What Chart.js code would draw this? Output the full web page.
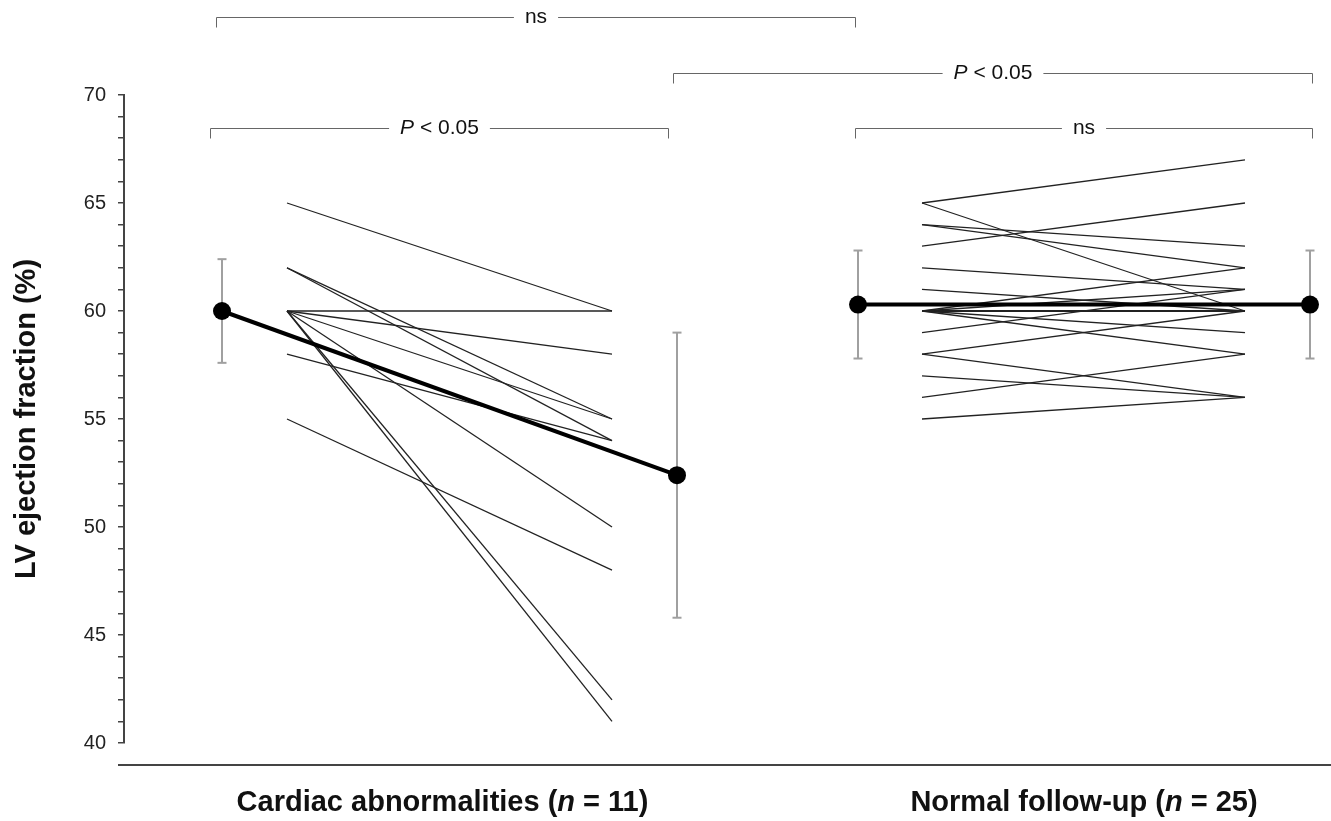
<!DOCTYPE html>
<html>
<head>
<meta charset="utf-8">
<script src="https://cdn.jsdelivr.net/npm/chart.js@4.4.1/dist/chart.umd.min.js"></script>
<style>
  html, body { margin: 0; padding: 0; background: #fff; }
  #wrap { width: 1331px; height: 821px; position: relative; }
</style>
</head>
<body>
<div id="wrap"><canvas id="efChart"></canvas></div>
<script>
// LV ejection fraction, baseline vs follow-up
const groups = ['Cardiac abnormalities', 'Normal follow-up'];
const groupN = [11, 25];

const caBaseline = [65, 62, 62, 60, 60, 60, 60, 60, 60, 58, 55];
const caFollowup = [60, 55, 54, 60, 58, 55, 50, 42, 41, 54, 48];

const nfBaseline = [65, 65, 64, 64, 63, 62, 61, 60, 60, 60, 60, 59, 58, 58, 57, 56, 55, 60, 60, 60, 60, 60, 60, 60, 60];
const nfFollowup = [67, 60, 63, 62, 65, 61, 60, 62, 61, 58, 59, 61, 60, 56, 56, 58, 56, 60, 60, 60, 60, 60, 60, 60, 60];

// group mean +/- SD at baseline and follow-up
const caMean = [60.0, 52.4];
const caSD = [2.4, 6.6];
const nfMean = [60.3, 60.3];
const nfSD = [2.5, 2.5];

const yTicks = [40, 45, 50, 55, 60, 65, 70];

// x slots on the (hidden) horizontal scale
const X = {
  caMean0: 0.98, caLine0: 1.63, caLine1: 4.88, caMean1: 5.53,
  nfMean0: 7.34, nfLine0: 7.98, nfLine1: 11.21, nfMean1: 11.86
};

// significance brackets: span on x, height in y units, label parts [text, italic]
const brackets = [
  { from: 0.92, to: 7.31, level: 73.6, label: [['ns', false]] },
  { from: 5.49, to: 11.88, level: 71.0, label: [['P', true], [' < 0.05', false]] },
  { from: 0.86, to: 5.44, level: 68.45, label: [['P', true], [' < 0.05', false]] },
  { from: 7.31, to: 11.88, level: 68.45, label: [['ns', false]] }
];

const FONT = "'Liberation Sans', Arial, Helvetica, sans-serif";

function seg(x0, x1, a, b) {
  return [{ x: x0, y: a }, { x: x1, y: b }];
}

const datasets = [];

// mean lines (drawn on top)
datasets.push({
  data: seg(X.caMean0, X.caMean1, caMean[0], caMean[1]),
  showLine: true, borderColor: '#000', borderWidth: 4,
  pointRadius: 9, pointBackgroundColor: '#000', pointBorderWidth: 0
});
datasets.push({
  data: seg(X.nfMean0, X.nfMean1, nfMean[0], nfMean[1]),
  showLine: true, borderColor: '#000', borderWidth: 4,
  pointRadius: 9, pointBackgroundColor: '#000', pointBorderWidth: 0
});

// error bars
[[X.caMean0, caMean[0], caSD[0]], [X.caMean1, caMean[1], caSD[1]],
 [X.nfMean0, nfMean[0], nfSD[0]], [X.nfMean1, nfMean[1], nfSD[1]]].forEach(([x, m, sd]) => {
  datasets.push({
    data: [{ x: x, y: m - sd }, { x: x, y: m + sd }],
    showLine: true, borderColor: '#a0a0a0', borderWidth: 2,
    pointStyle: 'line', pointRadius: 4.5, pointBorderColor: '#a0a0a0', pointBorderWidth: 2
  });
});

// individual patients
caBaseline.forEach((v, i) => {
  datasets.push({
    data: seg(X.caLine0, X.caLine1, v, caFollowup[i]),
    showLine: true, borderColor: '#222', borderWidth: 1.3, pointRadius: 0
  });
});
nfBaseline.forEach((v, i) => {
  datasets.push({
    data: seg(X.nfLine0, X.nfLine1, v, nfFollowup[i]),
    showLine: true, borderColor: '#222', borderWidth: 1.3, pointRadius: 0
  });
});

function richWidth(ctx, parts, size, weight) {
  let w = 0;
  parts.forEach(([t, it]) => {
    ctx.font = (it ? 'italic ' : '') + weight + ' ' + size + 'px ' + FONT;
    w += ctx.measureText(t).width;
  });
  return w;
}

function drawRich(ctx, parts, cx, cy, size, weight, color) {
  const total = richWidth(ctx, parts, size, weight);
  let x = cx - total / 2;
  ctx.fillStyle = color;
  ctx.textAlign = 'left';
  ctx.textBaseline = 'middle';
  parts.forEach(([t, it]) => {
    ctx.font = (it ? 'italic ' : '') + weight + ' ' + size + 'px ' + FONT;
    ctx.fillText(t, x, cy);
    x += ctx.measureText(t).width;
  });
}

const annotate = {
  id: 'annotate',
  afterDraw(chart) {
    const { ctx, chartArea, scales: { x, y } } = chart;
    ctx.save();

    // brackets
    ctx.strokeStyle = '#666';
    ctx.lineWidth = 1;
    brackets.forEach(b => {
      const x1 = Math.round(x.getPixelForValue(b.from)) + 0.5;
      const x2 = Math.round(x.getPixelForValue(b.to)) + 0.5;
      const yy = Math.round(y.getPixelForValue(b.level)) + 0.5;
      const cx = (x1 + x2) / 2;
      const w = richWidth(ctx, b.label, 21, 'normal');
      ctx.beginPath();
      ctx.moveTo(x1, yy + 10);
      ctx.lineTo(x1, yy);
      ctx.lineTo(cx - w / 2 - 11, yy);
      ctx.moveTo(cx + w / 2 + 11, yy);
      ctx.lineTo(x2, yy);
      ctx.lineTo(x2, yy + 10);
      ctx.stroke();
      drawRich(ctx, b.label, cx, yy, 21, 'normal', '#111');
    });

    // bottom axis line
    const by = chartArea.bottom + 22;
    ctx.strokeStyle = '#444';
    ctx.lineWidth = 2;
    ctx.beginPath();
    ctx.moveTo(chartArea.left - 6, by);
    ctx.lineTo(chart.width, by);
    ctx.stroke();

    // group labels
    const centers = [(X.caMean0 + X.caMean1) / 2 - 0.07, (X.nfMean0 + X.nfMean1) / 2];
    groups.forEach((g, i) => {
      const parts = [[g + ' (', false], ['n', true], [' = ' + groupN[i] + ')', false]];
      drawRich(ctx, parts, x.getPixelForValue(centers[i]), chartArea.bottom + 60, 29, 'bold', '#111');
    });

    ctx.restore();
  }
};

new Chart(document.getElementById('efChart'), {
  type: 'scatter',
  data: { datasets: datasets },
  options: {
    responsive: true,
    maintainAspectRatio: false,
    devicePixelRatio: 1,
    animation: false,
    events: [],
    layout: { padding: { top: 95, bottom: 78, left: 0, right: 0 } },
    plugins: { legend: { display: false }, tooltip: { enabled: false } },
    scales: {
      x: { type: 'linear', min: 0, max: 11.98, display: false },
      y: {
        min: 40, max: 70,
        afterFit: s => { s.width = 124; },
        border: { display: true, color: '#444', width: 2 },
        grid: { drawOnChartArea: false, drawTicks: true, tickLength: 6, color: '#444', lineWidth: 1.5 },
        ticks: {
          stepSize: 1, autoSkip: false, padding: 12, color: '#222',
          font: { size: 20, family: FONT },
          callback: v => yTicks.includes(v) ? v : ''
        },
        title: {
          display: true, text: 'LV ejection fraction (%)', color: '#111',
          font: { size: 29, weight: 'bold', family: FONT },
          padding: { top: 10, bottom: 0 }
        }
      }
    }
  },
  plugins: [annotate]
});
</script>
</body>
</html>
